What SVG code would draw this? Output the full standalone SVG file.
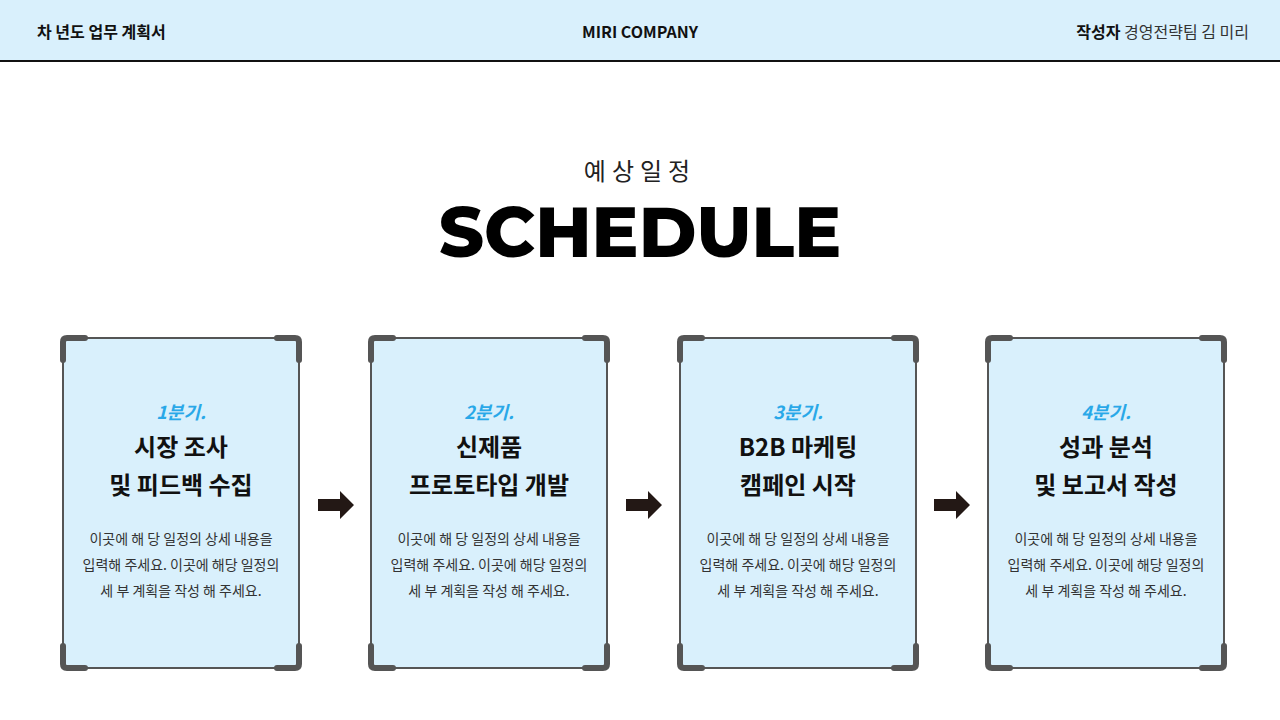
<svg xmlns="http://www.w3.org/2000/svg" width="1280" height="720" viewBox="0 0 1280 720">
<style>
.k{font-family:"Noto Sans CJK KR","Noto Sans",sans-serif}
.hd{font-size:16px;font-weight:700;fill:#111}
.q{font-size:18px;font-weight:700;font-style:italic;fill:#29a8e8;text-anchor:middle}
.t{font-size:24px;font-weight:700;fill:#111;text-anchor:middle}
.d{font-size:14px;fill:#333;text-anchor:middle}
.box{fill:#d9f0fc;stroke:#555;stroke-width:2}
.cor{fill:none;stroke:#555;stroke-width:6;stroke-linecap:round;stroke-linejoin:round}
</style>
<defs>
<g id="card">
<rect class="box" x="0" y="0" width="236" height="330" rx="4"/>
<path class="cor" d="M0 22V4Q0 0 4 0H22M214 0H232Q236 0 236 4V22M236 308V326Q236 330 232 330H214M22 330H4Q0 330 0 326V308"/>
</g>
<path id="arr" d="M0 -6H22V-14L36 0L22 14V6H0Z" fill="#231815"/>
</defs>
<rect width="1280" height="720" fill="#fff"/>
<g id="header">
<rect width="1280" height="61" fill="#d9f0fc"/>
<line x1="0" y1="61" x2="1280" y2="61" stroke="#111" stroke-width="2"/>
<text class="k hd" x="37" y="38">차 년도 업무 계획서</text>
<text class="k hd" x="640" y="38" text-anchor="middle">MIRI COMPANY</text>
<text class="k" x="1249" y="38" text-anchor="end" font-size="16" fill="#333"><tspan font-weight="700" fill="#111">작성자</tspan>  경영전략팀 김 미리</text>
</g>
<g id="title">
<text class="k" x="640" y="180" text-anchor="middle" font-size="24" fill="#222" letter-spacing="6">예상일정</text>
<text x="640" y="257" text-anchor="middle" font-family="Montserrat,'Noto Sans',sans-serif" font-size="70" font-weight="800" fill="#000">SCHEDULE</text>
</g>
<g id="connectors">
<use href="#arr" x="318" y="505"/>
<use href="#arr" x="626" y="505"/>
<use href="#arr" x="934" y="505"/>
</g>
<g id="n1" transform="translate(63,338)">
<use href="#card"/>
<text class="k q" x="118" y="81">1분기.</text>
<text class="k t" x="118" y="118">시장 조사</text>
<text class="k t" x="118" y="156">및 피드백 수집</text>
<text class="k d" x="118" y="206">이곳에 해 당 일정의 상세 내용을</text>
<text class="k d" x="118" y="232">입력해 주세요. 이곳에 해당 일정의</text>
<text class="k d" x="118" y="258">세 부 계획을 작성 해 주세요.</text>
</g>
<g id="n2" transform="translate(371,338)">
<use href="#card"/>
<text class="k q" x="118" y="81">2분기.</text>
<text class="k t" x="118" y="118">신제품</text>
<text class="k t" x="118" y="156">프로토타입 개발</text>
<text class="k d" x="118" y="206">이곳에 해 당 일정의 상세 내용을</text>
<text class="k d" x="118" y="232">입력해 주세요. 이곳에 해당 일정의</text>
<text class="k d" x="118" y="258">세 부 계획을 작성 해 주세요.</text>
</g>
<g id="n3" transform="translate(680,338)">
<use href="#card"/>
<text class="k q" x="118" y="81">3분기.</text>
<text class="k t" x="118" y="118">B2B 마케팅</text>
<text class="k t" x="118" y="156">캠페인 시작</text>
<text class="k d" x="118" y="206">이곳에 해 당 일정의 상세 내용을</text>
<text class="k d" x="118" y="232">입력해 주세요. 이곳에 해당 일정의</text>
<text class="k d" x="118" y="258">세 부 계획을 작성 해 주세요.</text>
</g>
<g id="n4" transform="translate(988,338)">
<use href="#card"/>
<text class="k q" x="118" y="81">4분기.</text>
<text class="k t" x="118" y="118">성과 분석</text>
<text class="k t" x="118" y="156">및 보고서 작성</text>
<text class="k d" x="118" y="206">이곳에 해 당 일정의 상세 내용을</text>
<text class="k d" x="118" y="232">입력해 주세요. 이곳에 해당 일정의</text>
<text class="k d" x="118" y="258">세 부 계획을 작성 해 주세요.</text>
</g>
</svg>
